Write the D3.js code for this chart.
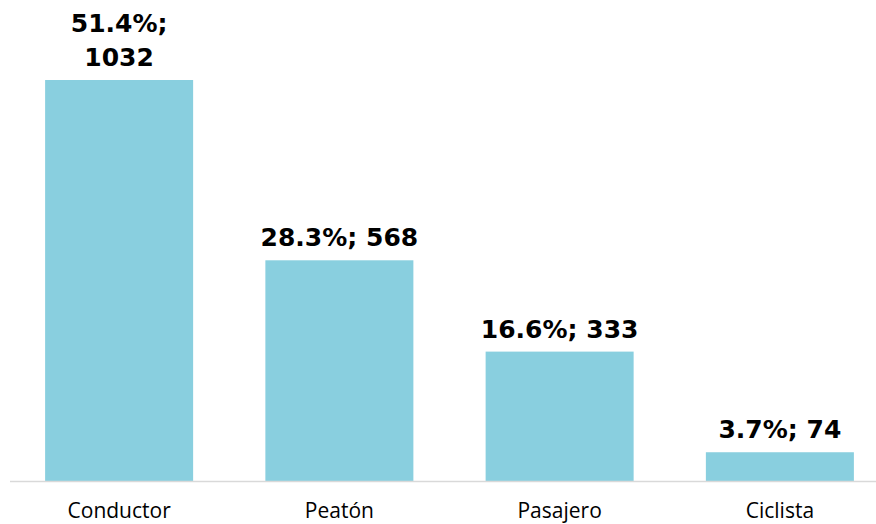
<!DOCTYPE html>
<html>
<head>
<meta charset="utf-8">
<script src="https://cdn.jsdelivr.net/npm/d3@7"></script>
<style>
  html, body { margin: 0; padding: 0; background: #fff; }
  svg { display: block; }
</style>
</head>
<body>
<svg id="chart" width="876" height="524"></svg>
<script>
const categories = ["Conductor", "Peatón", "Pasajero", "Ciclista"];
const values = [1032, 568, 333, 74];
const percents = ["51.4", "28.3", "16.6", "3.7"];

const W = 876, H = 524;
const svg = d3.select("#chart");

const x = d3.scaleBand()
  .domain(categories)
  .range([9, 890])
  .paddingInner(0.328)
  .paddingOuter(0.164);

const y = d3.scaleLinear()
  .domain([0, 1032])
  .range([481, 80]);

const data = categories.map((c, i) => ({ cat: c, value: values[i], pct: percents[i] }));

// bars
svg.append("g").selectAll("rect")
  .data(data)
  .join("rect")
  .attr("x", d => x(d.cat))
  .attr("y", d => y(d.value))
  .attr("width", x.bandwidth())
  .attr("height", d => y(0) - y(d.value))
  .attr("fill", "#89cfdf");

// axis line
svg.append("line")
  .attr("x1", 10).attr("x2", W)
  .attr("y1", y(0) + 0.5).attr("y2", y(0) + 0.5)
  .attr("stroke", "#d9d9d9")
  .attr("stroke-width", 1.5);

// category labels
const xAxis = d3.axisBottom(x).tickSize(0).tickPadding(0);
const gx = svg.append("g")
  .attr("transform", `translate(0, ${y(0)})`)
  .call(xAxis);
gx.select(".domain").remove();
gx.selectAll("text")
  .attr("dy", null)
  .attr("y", 37)
  .attr("font-family", "'Open Sans', 'Noto Sans', sans-serif")
  .attr("font-size", 21)
  .attr("fill", "#000");

// data labels
const lbl = svg.append("g").selectAll("text")
  .data(data)
  .join("text")
  .attr("text-anchor", "middle")
  .attr("font-family", "'DejaVu Sans', Verdana, sans-serif")
  .attr("font-weight", "bold")
  .attr("font-size", 25)
  .attr("fill", "#000");

lbl.each(function(d) {
  const t = d3.select(this);
  const full = `${d.pct}%; ${d.value}`;
  t.text(full);
  const w = this.getComputedTextLength();
  const cx = x(d.cat) + x.bandwidth() / 2;
  const base = y(d.value) - 14;
  if (w > x.bandwidth() + 18) {
    t.text(null);
    t.append("tspan").attr("x", cx).attr("y", base - 34).text(`${d.pct}%;`);
    t.append("tspan").attr("x", cx).attr("y", base).text(`${d.value}`);
  } else {
    t.attr("x", cx).attr("y", base);
  }
});
</script>
</body>
</html>
